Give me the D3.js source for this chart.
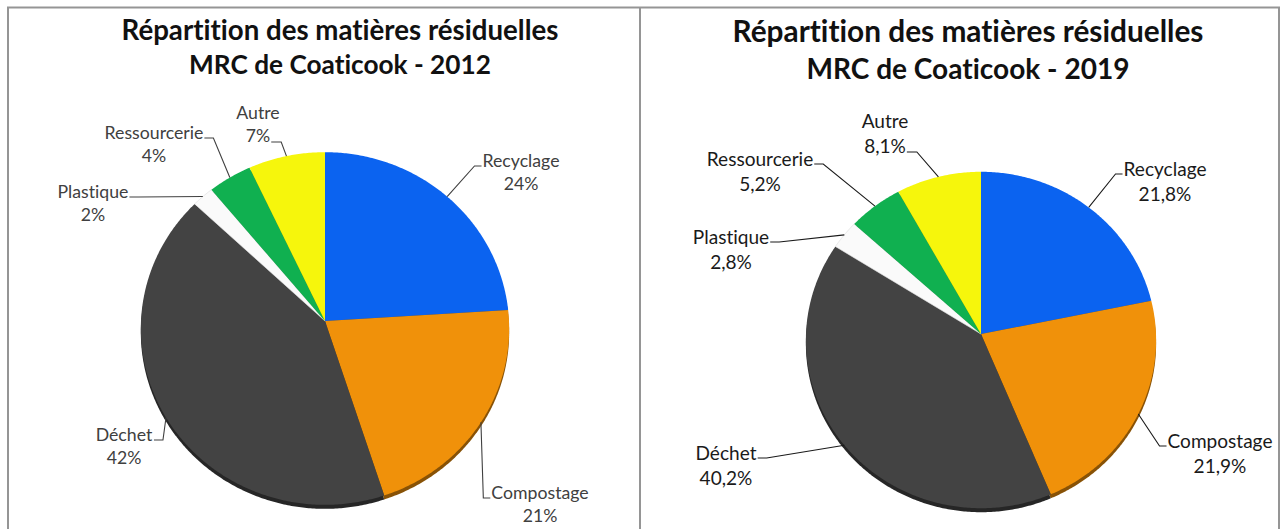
<!DOCTYPE html>
<html>
<head>
<meta charset="utf-8">
<script src="https://cdn.jsdelivr.net/npm/d3@7"></script>
<style>
  html, body { margin: 0; padding: 0; background: #fff; }
  svg { display: block; font-variant-ligatures: none; font-feature-settings: "liga" 0, "clig" 0; }
</style>
</head>
<body>
<div id="chart"></div>
<script>
// data
var categories = ["Recyclage", "Compostage", "Déchet", "Plastique", "Ressourcerie", "Autre"];
var values2012 = [24, 21, 42, 2, 4, 7];
var values2019 = [21.8, 21.9, 40.2, 2.8, 5.2, 8.1];
var titleLine1 = "Répartition des matières résiduelles";
var titles2 = ["MRC de Coaticook - 2012", "MRC de Coaticook - 2019"];
var colors = ["#0b63f0", "#f0910a", "#434343", "#fafafa", "#10b050", "#f6f60c"];

var W = 1281, H = 529;

var fr = d3.formatLocale({ decimal: ",", thousands: " ", grouping: [3], currency: ["", " €"] });

var svg = d3.select("#chart").append("svg")
    .attr("width", W)
    .attr("height", H);

// frame around the two panels
var frame = svg.append("g").attr("stroke", "#959595").attr("stroke-width", 2).attr("fill", "none");
frame.append("line").attr("x1", 7).attr("x2", 1280).attr("y1", 7.5).attr("y2", 7.5);
frame.append("line").attr("x1", 8).attr("x2", 8).attr("y1", 7).attr("y2", H);
frame.append("line").attr("x1", 640).attr("x2", 640).attr("y1", 7).attr("y2", H);
frame.append("line").attr("x1", 1279).attr("x2", 1279).attr("y1", 7).attr("y2", H);

// layout for each panel
var panels = [
  {
    values: values2012, fmt: fr.format(".0f"), title2: titles2[0],
    cx: 325, cy: 321, rx: 184, ry: 176, k: 0.0426, depth: 4,
    titleX: 340, titleY: [40, 74], titleW: [437, 302],
    labelRef: 77, labelColor: "#404040", lineColor: "#404040", pctDy: 23,
    // name centre, side of the leader line
    labels: [[521, 161, "r"], [540, 493, "r"], [124, 435, "l"], [93, 192, "l"], [154, 133, "l"], [258, 113, "p"]]
  },
  {
    values: values2019, fmt: fr.format(".1f"), title2: titles2[1],
    cx: 981, cy: 334, rx: 175, ry: 168, k: 0.0357, depth: 4,
    titleX: 968, titleY: [42, 79], titleW: [471, 323],
    labelRef: 83, labelColor: "#1a1a1a", lineColor: "#1a1a1a", pctDy: 25,
    labels: [[1165, 169, "r"], [1220, 441, "r"], [726, 453, "l"], [731, 237, "l"], [760, 159, "l"], [885, 121, "p"]]
  }
];

function fitSize(textSel, target) {
  var size = parseFloat(textSel.attr("font-size"));
  var w = textSel.node().getComputedTextLength();
  textSel.attr("font-size", size * target / w);
}

panels.forEach(function (p) {
  var g = svg.append("g");

  // titles
  [titleLine1, p.title2].forEach(function (t, i) {
    var tt = g.append("text")
        .attr("x", p.titleX)
        .attr("y", p.titleY[i])
        .attr("text-anchor", "middle")
        .attr("font-family", "Lato, 'Open Sans', sans-serif")
        .attr("font-weight", 700)
        .attr("font-size", 24)
        .attr("fill", "#111")
        .text(t);
    fitSize(tt, p.titleW[i]);
  });

  // tilted pie with a little perspective
  function project(a) {
    var u = Math.sin(a), v = -Math.cos(a);
    var f = 1 / (1 - p.k * v);
    return [p.cx + p.rx * u * f, p.cy + p.ry * v * f];
  }
  var pie = d3.pie().sort(null).value(function (d) { return d; });
  var arcs = pie(p.values);
  var line = d3.line();

  function slicePath(d) {
    var pts = [[p.cx, p.cy]];
    var n = Math.max(2, Math.ceil((d.endAngle - d.startAngle) / 0.01));
    for (var i = 0; i <= n; i++) {
      pts.push(project(d.startAngle + (d.endAngle - d.startAngle) * i / n));
    }
    return line(pts) + "Z";
  }

  // side of the disc
  g.append("g").selectAll("path")
    .data(arcs)
    .join("path")
    .attr("d", slicePath)
    .attr("transform", "translate(0," + p.depth + ")")
    .attr("fill", function (d, i) { return d3.color(colors[i]).darker(1.6); });

  g.append("g").selectAll("path")
    .data(arcs)
    .join("path")
    .attr("d", slicePath)
    .attr("fill", function (d, i) { return colors[i]; })
    .attr("stroke", function (d, i) { return i === 3 ? "#dcdcdc" : "none"; })
    .attr("stroke-width", 0.6);

  // labels and leader lines
  var labelSize = null;
  arcs.forEach(function (d, i) {
    var L = p.labels[i];
    var lab = g.append("g")
        .attr("font-family", "Lato, 'Open Sans', sans-serif")
        .attr("fill", p.labelColor)
        .attr("text-anchor", "middle");
    var name = lab.append("text")
        .attr("x", L[0]).attr("y", L[1]).attr("dy", "0.35em")
        .attr("font-size", 16)
        .text(categories[i]);
    if (labelSize === null) {
      fitSize(name, p.labelRef);
      labelSize = +name.attr("font-size");
    } else {
      name.attr("font-size", labelSize);
    }
    var pct = lab.append("text")
        .attr("x", L[0]).attr("y", L[1] + p.pctDy).attr("dy", "0.35em")
        .attr("font-size", labelSize)
        .text(p.fmt(d.data) + "%");

    var edge = project((d.startAngle + d.endAngle) / 2);
    var box, x0, y0, x1;
    if (L[2] === "r") {
      box = name.node().getBBox();
      x0 = box.x - 1; y0 = L[1] + 5; x1 = x0 - 7;
    } else if (L[2] === "l") {
      box = name.node().getBBox();
      x0 = box.x + box.width + 1; y0 = L[1] + 5; x1 = x0 + 9;
    } else {
      box = pct.node().getBBox();
      x0 = box.x + box.width + 1; y0 = L[1] + p.pctDy + 6; x1 = x0 + 10;
    }
    g.append("path")
      .attr("d", line([[x0, y0], [x1, y0], edge]))
      .attr("fill", "none")
      .attr("stroke", p.lineColor)
      .attr("stroke-width", 1.1);
  });
});
</script>
</body>
</html>
